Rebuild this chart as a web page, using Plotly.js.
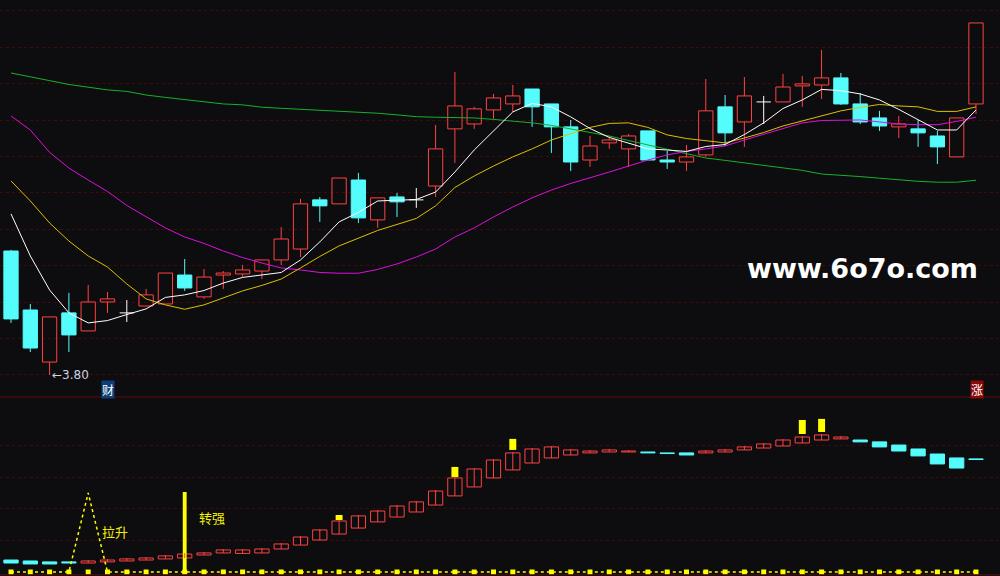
<!DOCTYPE html>
<html><head><meta charset="utf-8">
<script src="https://cdn.plot.ly/plotly-3.0.1.min.js"></script>
<style>html,body{margin:0;padding:0;background:#0d0d10;overflow:hidden}#chart{width:1000px;height:576px}</style>
</head><body><div id="chart"></div>
<script>
// ---- main K-line data (price) ----
const open  = [4.481,4.157,3.871,4.141,4.042,4.201,4.141,4.179,4.190,4.349,4.229,4.349,4.355,4.371,4.432,4.492,4.762,4.740,4.871,4.652,4.778,4.762,4.838,5.152,5.179,5.256,5.289,5.371,5.289,5.163,4.981,5.075,5.042,5.141,4.981,4.970,5.009,5.273,5.190,5.300,5.300,5.388,5.393,5.432,5.289,5.212,5.163,5.152,5.113,4.998,5.289];
const close = [4.108,3.948,4.119,4.020,4.201,4.218,4.141,4.240,4.360,4.278,4.338,4.360,4.377,4.432,4.547,4.740,4.729,4.882,4.663,4.773,4.751,4.762,5.042,5.278,5.262,5.322,5.333,5.273,5.163,4.970,5.058,5.091,5.113,4.981,4.970,4.998,5.251,5.130,5.333,5.300,5.382,5.399,5.432,5.289,5.190,5.168,5.179,5.130,5.053,5.212,5.734];
const high  = [4.487,4.190,4.119,4.251,4.295,4.256,4.212,4.273,4.360,4.437,4.382,4.371,4.404,4.432,4.613,4.767,4.778,4.882,4.910,4.773,4.800,4.827,5.174,5.465,5.273,5.344,5.393,5.371,5.289,5.201,5.113,5.113,5.124,5.141,5.031,5.064,5.426,5.338,5.437,5.333,5.454,5.443,5.586,5.459,5.349,5.251,5.223,5.201,5.141,5.212,5.734];
const low   = [4.086,3.926,3.800,3.926,4.042,4.141,4.091,4.179,4.190,4.262,4.218,4.273,4.338,4.327,4.404,4.448,4.641,4.740,4.635,4.608,4.668,4.718,4.778,4.965,5.152,5.207,5.245,5.163,5.020,4.921,4.943,5.042,4.943,4.981,4.932,4.921,4.998,5.058,5.053,5.179,5.300,5.273,5.316,5.284,5.179,5.141,5.102,5.053,4.959,4.998,5.234];
// ---- moving averages ----
const ma5  = [4.685,4.454,4.267,4.141,4.086,4.099,4.132,4.163,4.226,4.240,4.264,4.305,4.336,4.349,4.363,4.432,4.531,4.641,4.693,4.756,4.762,4.764,4.805,4.915,5.036,5.141,5.245,5.292,5.273,5.218,5.154,5.105,5.072,5.042,5.036,5.028,5.055,5.066,5.121,5.185,5.264,5.311,5.369,5.362,5.344,5.311,5.259,5.201,5.146,5.146,5.256];
const ma10 = [4.866,4.756,4.635,4.536,4.454,4.393,4.300,4.218,4.185,4.161,4.185,4.223,4.262,4.292,4.327,4.388,4.451,4.509,4.550,4.594,4.627,4.660,4.729,4.830,4.893,4.948,4.998,5.042,5.091,5.124,5.160,5.182,5.185,5.160,5.119,5.099,5.087,5.075,5.102,5.132,5.168,5.196,5.226,5.251,5.270,5.286,5.278,5.273,5.248,5.248,5.273];
const ma20 = [5.223,5.146,5.023,4.937,4.871,4.808,4.731,4.668,4.608,4.558,4.523,4.481,4.445,4.415,4.388,4.377,4.363,4.359,4.359,4.380,4.410,4.448,4.492,4.558,4.608,4.668,4.723,4.773,4.816,4.852,4.882,4.915,4.948,4.981,5.009,5.028,5.042,5.058,5.091,5.121,5.154,5.185,5.198,5.201,5.201,5.190,5.179,5.175,5.175,5.193,5.216];
const ma60 = [5.459,5.440,5.417,5.396,5.380,5.366,5.358,5.338,5.325,5.314,5.303,5.289,5.284,5.271,5.265,5.260,5.254,5.249,5.243,5.238,5.229,5.219,5.216,5.216,5.212,5.204,5.196,5.185,5.171,5.152,5.130,5.113,5.088,5.064,5.040,5.017,4.992,4.979,4.965,4.951,4.938,4.924,4.904,4.899,4.890,4.881,4.871,4.864,4.859,4.859,4.870];
// ---- lower indicator candles ----
const subOpen  = [7.6,7.0,6.4,6.4,5.7,6.4,7.0,7.6,8.3,8.9,10.8,12.1,11.8,12.1,14.6,17.1,20.3,24.1,27.9,31.8,34.9,38.1,42.5,48.3,54.0,59.7,64.8,69.2,72.4,74.3,75.6,76.2,76.2,76.2,75.6,75.6,75.6,76.2,77.5,78.7,80.0,81.9,83.8,84.5,83.8,82.6,80.6,78.1,74.9,72.4,71.8];
const subClose = [5.7,5.1,5.1,5.7,7.0,7.6,8.3,8.9,10.2,11.4,12.1,14.0,14.0,14.6,17.8,22.2,26.7,32.4,35.6,38.7,41.9,44.5,51.4,59.7,65.4,71.1,75.6,78.1,79.4,77.5,76.8,77.5,76.8,75.6,75.2,74.3,76.8,77.5,79.4,81.3,83.8,85.7,87.0,85.7,82.6,79.4,76.8,73.7,68.6,66.0,71.4];
// signals
const liftLine   = [0,0,0,0,50.2,0,0,0,0,0,0,0,0,0,0,0,0,0,0,0,0,0,0,0,0,0,0,0,0,0,0,0,0,0,0,0,0,0,0,0,0,0,0,0,0,0,0,0,0,0,0];
const strongIdx  = [9];
const strongTop  = [50.8];
const markIdx    = [17,23,26,41,42];
const markBase   = [33.0,60.3,77.5,87.6,88.9];
const markTop    = [36.2,66.7,84.5,96.5,97.2];
const lowLabel   = "←3.80";

const RED='#ff4242', CYAN='#54fcfc', BG='#0d0d10', GRID='#420909';
const BW = 0.74;            // body width in bar slots
const n = open.length;
const idx = Array.from({length:n},(_,i)=>i);
const traces = [];
const common = {hoverinfo:'skip', showlegend:false, xaxis:'x'};

function addCandles(o, c, h, l, yax, innerWick){
  const up = idx.filter(i=>c[i]>o[i]);
  const dn = idx.filter(i=>c[i]<o[i]);
  const dj = idx.filter(i=>c[i]===o[i]);
  traces.push(Object.assign({type:'bar', x:up, base:up.map(i=>o[i]), y:up.map(i=>c[i]-o[i]), width:BW,
    marker:{color:'rgba(0,0,0,0)', line:{color:RED,width:1}}, yaxis:yax}, common));
  traces.push(Object.assign({type:'bar', x:dn, base:dn.map(i=>c[i]), y:dn.map(i=>o[i]-c[i]), width:BW,
    marker:{color:CYAN, line:{color:CYAN,width:1}}, yaxis:yax}, common));
  const mk = (set, col, inner) => {
    const xs=[], ys=[];
    set.forEach(i=>{
      const top=Math.max(o[i],c[i]), bot=Math.min(o[i],c[i]);
      if(inner){ xs.push(i,i,null); ys.push(l[i],h[i],null); }
      else {
        if(h[i]>top){ xs.push(i,i,null); ys.push(h[i],top,null); }
        if(l[i]<bot){ xs.push(i,i,null); ys.push(bot,l[i],null); }
      }
    });
    traces.push(Object.assign({type:'scatter', mode:'lines', x:xs, y:ys, line:{color:col,width:1}, yaxis:yax}, common));
  };
  mk(up, RED, innerWick); mk(dn, CYAN, false);
  if(dj.length){
    const xs=[], ys=[];
    dj.forEach(i=>{ xs.push(i-BW/2,i+BW/2,null,i,i,null); ys.push(c[i],c[i],null,h[i],l[i],null); });
    traces.push(Object.assign({type:'scatter', mode:'lines', x:xs, y:ys, line:{color:'#ffffff',width:1}, yaxis:yax}, common));
  }
}
addCandles(open, close, high, low, 'y', false);
[[ma60,'#16b02a'],[ma20,'#dc10dc'],[ma10,'#dcc000'],[ma5,'#ffffff']].forEach(([d,c])=>{
  traces.push(Object.assign({type:'scatter', mode:'lines', x:idx, y:d, line:{color:c,width:1}, yaxis:'y'}, common));
});
// lower panel
const subHigh = idx.map(i=>Math.max(subOpen[i],subClose[i]) + (subClose[i]>subOpen[i]?0.6:0));
const subLow  = idx.map(i=>Math.min(subOpen[i],subClose[i]));
addCandles(subOpen, subClose, subHigh, subLow, 'y2', true);
traces.push(Object.assign({type:'bar', x:markIdx, base:markBase, y:markIdx.map((_,k)=>markTop[k]-markBase[k]), width:0.36, marker:{color:'#ffff00',line:{width:0}}, yaxis:'y2'}, common));
traces.push(Object.assign({type:'bar', x:strongIdx, base:[0], y:strongTop, width:0.2, marker:{color:'#ffff00',line:{width:0}}, yaxis:'y2'}, common));
traces.push(Object.assign({type:'scatter', mode:'lines', x:idx, y:liftLine, line:{color:'#ffff00',width:1.5,dash:'dot'}, yaxis:'y2'}, common));
traces.push(Object.assign({type:'scatter', mode:'markers', x:idx, y:idx.map(()=>0), marker:{color:'#ffff00',size:5,symbol:'square'}, yaxis:'y2'}, common));

const split = 1-397/576;
const layout = {
  width:1000, height:576, margin:{l:0,r:0,t:0,b:0},
  paper_bgcolor:BG, plot_bgcolor:BG, showlegend:false, barmode:'overlay',
  xaxis:{range:[-0.570,51.244], showgrid:false, zeroline:false, showticklabels:false, showline:false, ticks:'', fixedrange:true},
  yaxis:{domain:[split,1], range:[3.679,5.860], tickvals:[3.8,4.0,4.2,4.4,4.6,4.8,5.0,5.2,5.4,5.6,5.8], showticklabels:false, gridcolor:GRID, griddash:'dot', gridwidth:1, zeroline:false, showline:false, ticks:'', fixedrange:true},
  yaxis2:{domain:[0,split], range:[-2.54,111.1], tickvals:[20,40,60,80], showticklabels:false, gridcolor:GRID, griddash:'dot', gridwidth:1, zeroline:false, showline:false, ticks:'', fixedrange:true},
  shapes:[
    {type:'line', xref:'paper', yref:'paper', x0:0, x1:1, y0:split, y1:split, line:{color:'#5e0d0d',width:1}},
    {type:'line', xref:'paper', yref:'paper', x0:0, x1:1, y0:0.002, y1:0.002, line:{color:'#5e0d0d',width:1}}
  ],
  annotations:[
    {x:2, y:3.80, xref:'x', yref:'y', text:lowLabel, showarrow:false, xanchor:'left', yanchor:'middle', font:{family:'DejaVu Sans', size:12, color:'#c8d4e0'}},
    {x:0.1075, y:1-389.5/576, xref:'paper', yref:'paper', text:'财', showarrow:false, xanchor:'center', yanchor:'middle', bgcolor:'#0f3f78', borderpad:0, font:{family:'Noto Sans CJK SC', size:12, color:'#ffffff'}},
    {x:0.9765, y:1-389/576, xref:'paper', yref:'paper', text:'涨', showarrow:false, xanchor:'center', yanchor:'middle', bgcolor:'#8a0a0a', borderpad:0, font:{family:'Noto Sans CJK SC', size:12, color:'#ffffff'}},
    {x:4.61, y:26.0, xref:'x', yref:'y2', text:'拉升', showarrow:false, xanchor:'left', yanchor:'middle', font:{family:'Noto Sans CJK SC', size:13, color:'#f4f000'}},
    {x:9.64, y:34.9, xref:'x', yref:'y2', text:'转强', showarrow:false, xanchor:'left', yanchor:'middle', font:{family:'Noto Sans CJK SC', size:13, color:'#f4f000'}},
    {x:0.8625, y:1-268/576, xref:'paper', yref:'paper', text:'<b>www.6o7o.com</b>', showarrow:false, xanchor:'center', yanchor:'middle', font:{family:'DejaVu Sans', size:27, color:'#ffffff'}}
  ]
};
Plotly.newPlot('chart', traces, layout, {staticPlot:true, displayModeBar:false});
</script></body></html>
